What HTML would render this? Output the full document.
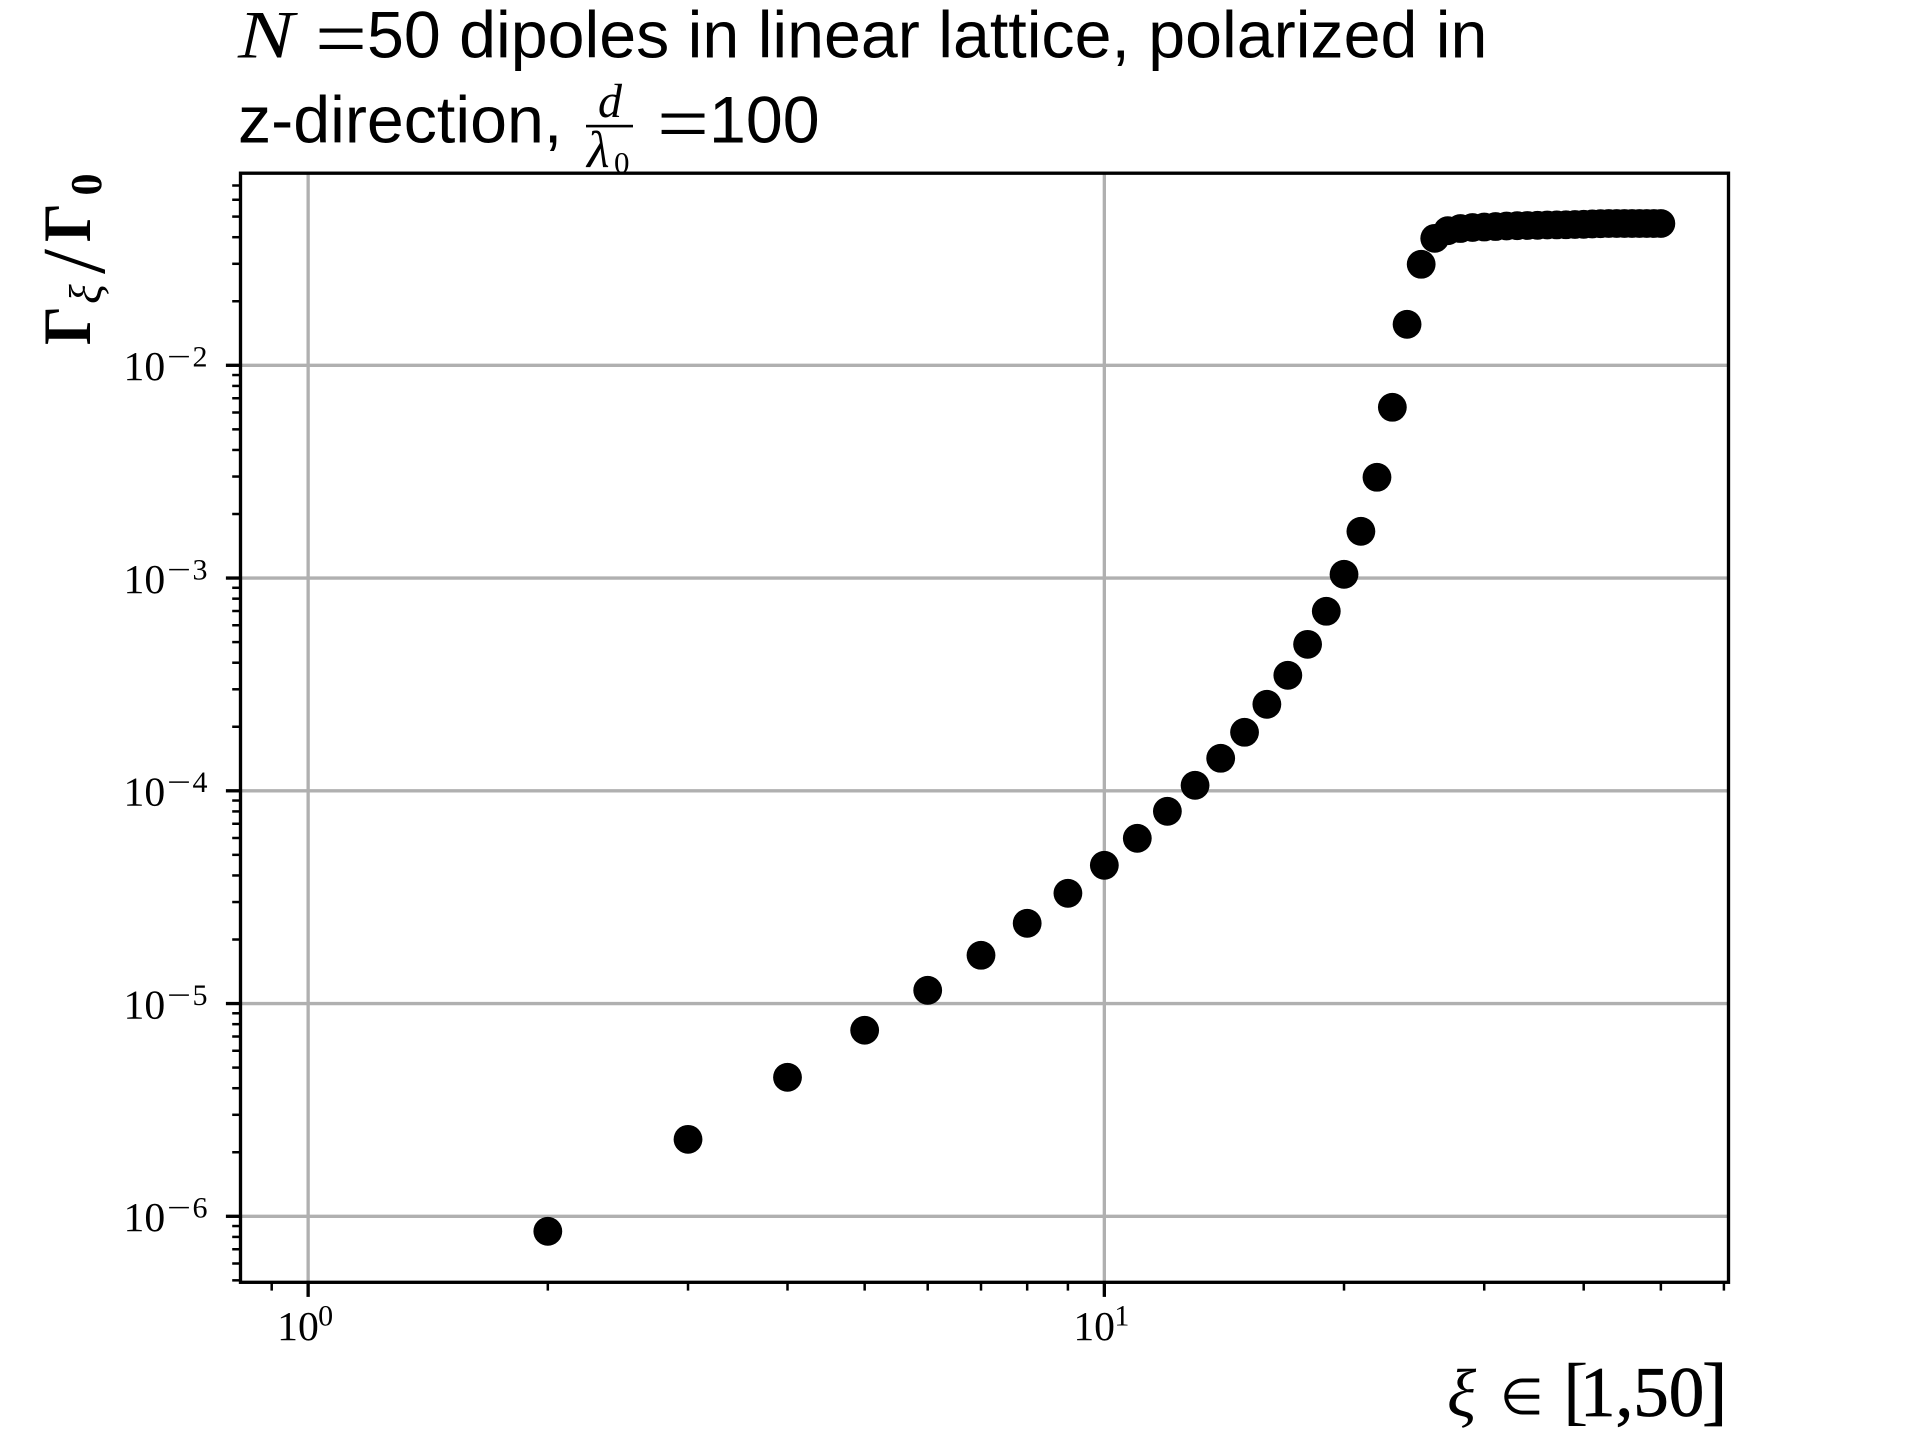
<!DOCTYPE html>
<html lang="en">
<head>
<meta charset="utf-8">
<title>Decay rates of 50 dipoles in a linear lattice</title>
<style>
html,body{margin:0;padding:0;background:#fff;width:1920px;height:1440px;overflow:hidden}
svg{display:block}
.sans{font-family:"Liberation Sans",sans-serif;fill:#000}
.serif{font-family:"Liberation Serif",serif;fill:#000}
.ital{font-family:"Liberation Serif",serif;font-style:italic;fill:#000}
.bold{font-family:"Liberation Serif",serif;font-weight:bold;fill:#000}
</style>
</head>
<body>
<svg id="chart" xmlns="http://www.w3.org/2000/svg" width="1920" height="1440" viewBox="0 0 1920 1440">
  <rect x="0" y="0" width="1920" height="1440" fill="#fff"/>
  <g id="grid"></g>
  <g id="points"></g>
  <g id="ticks"></g>
  <rect x="240.5" y="173.2" width="1488" height="1109.1" fill="none" stroke="#000" stroke-width="3.33"/>
  <g id="tick-labels"></g>

  <g>
    <text class="ital" x="238" y="57.5" font-size="68" textLength="56" lengthAdjust="spacingAndGlyphs">N</text>
    <text class="serif" x="315" y="66" font-size="82" textLength="52" lengthAdjust="spacingAndGlyphs">=</text>
    <text class="sans" x="367" y="57.5" font-size="66.3">50 dipoles in linear lattice, polarized in</text>
    <text class="sans" x="238" y="142.5" font-size="66.3">z-direction,</text>
    <text class="ital" x="598" y="117" font-size="48">d</text>
    <rect x="586" y="124.8" width="47" height="2.6" fill="#000"/>
    <text class="ital" x="587" y="167" font-size="52">λ</text>
    <text class="serif" x="614" y="173" font-size="31">0</text>
    <text class="serif" x="657" y="151" font-size="82" textLength="52" lengthAdjust="spacingAndGlyphs">=</text>
    <text class="sans" x="709" y="142.5" font-size="66.3">100</text>
  </g>

  <g>
    <text class="bold" transform="translate(90,345) rotate(-90)" font-size="68" textLength="39" lengthAdjust="spacingAndGlyphs">Γ</text>
    <text class="ital" transform="translate(101,304) rotate(-90)" font-size="46">ξ</text>
    <text class="serif" transform="translate(104,274) rotate(-90)" font-size="90">/</text>
    <text class="bold" transform="translate(90,242) rotate(-90)" font-size="68" textLength="39" lengthAdjust="spacingAndGlyphs">Γ</text>
    <text class="bold" transform="translate(101,195.5) rotate(-90)" font-size="44">0</text>
  </g>

  <g>
    <text class="ital" x="1447" y="1416" font-size="68">ξ</text>
    <text class="serif" x="1500" y="1414" font-size="50">∈</text>
    <text class="serif" x="1563" y="1416" font-size="76">[</text>
    <text class="serif" x="1580" y="1416" font-size="71" stroke="#000" stroke-width="0.7">1,50</text>
    <text class="serif" x="1702" y="1416" font-size="76" stroke="#000" stroke-width="0.7">]</text>
  </g>
</svg>

<script>
var xiValues = [2,3,4,5,6,7,8,9,10,11,12,13,14,15,16,17,18,19,20,21,22,23,24,25,26,27,28,29,30,31,32,33,34,35,36,37,38,39,40,41,42,43,44,45,46,47,48,49,50];
var gammaValues = [8.50e-7,2.30e-6,4.50e-6,7.49e-6,1.154e-5,1.686e-5,2.383e-5,3.298e-5,4.465e-5,5.98e-5,8.01e-5,1.061e-4,1.422e-4,1.884e-4,2.55e-4,3.49e-4,4.88e-4,6.98e-4,1.041e-3,1.658e-3,2.976e-3,6.35e-3,0.01558,0.02984,0.03951,0.04292,0.04395,0.04443,0.04467,0.04491,0.04516,0.04531,0.04541,0.0455,0.04566,0.0457,0.04576,0.0459,0.046,0.04617,0.0463,0.0464,0.0464,0.0464,0.0464,0.0464,0.0464,0.0464,0.0464];
var xMajorExponents = [0,1];
var yMajorExponents = [-6,-5,-4,-3,-2];
var xMinorTicks = [0.9,2,3,4,5,6,7,8,9,20,30,40,50,60];
var yMinorTicks = [5e-7,6e-7,7e-7,8e-7,9e-7,2e-6,3e-6,4e-6,5e-6,6e-6,7e-6,8e-6,9e-6,2e-5,3e-5,4e-5,5e-5,6e-5,7e-5,8e-5,9e-5,2e-4,3e-4,4e-4,5e-4,6e-4,7e-4,8e-4,9e-4,2e-3,3e-3,4e-3,5e-3,6e-3,7e-3,8e-3,9e-3,2e-2,3e-2,4e-2,5e-2,6e-2,7e-2];

var NS = 'http://www.w3.org/2000/svg';
var axL = 240.5, axR = 1728.5, axT = 173.2, axB = 1282.3;
var xLogMin = -0.08495, xLogMax = 1.78392;

function xScale(v) {
  return axL + (Math.log10(v) - xLogMin) / (xLogMax - xLogMin) * (axR - axL);
}
function yScale(v) {
  return 365.3 + (-2 - Math.log10(v)) * 212.75;
}
function make(tag, attrs) {
  var el = document.createElementNS(NS, tag);
  for (var k in attrs) { el.setAttribute(k, attrs[k]); }
  return el;
}

var gridG = document.getElementById('grid');
var ticksG = document.getElementById('ticks');
var labelsG = document.getElementById('tick-labels');
var pointsG = document.getElementById('points');

xMajorExponents.forEach(function (e) {
  var x = xScale(Math.pow(10, e));
  var g = make('line', {x1: x, x2: x, y1: axT, y2: axB, stroke: '#b0b0b0', 'stroke-width': 3.33});
  
  
  gridG.appendChild(g);
  var t = make('line', {x1: x, x2: x, y1: axB, y2: axB + 14.6, stroke: '#000', 'stroke-width': 3.33});
  
  
  ticksG.appendChild(t);
  var base = make('text', {x: x - 31, y: 1340, 'font-size': 41.7, 'class': 'serif'});
  base.textContent = '10';
  
  
  labelsG.appendChild(base);
  var sup = make('text', {x: x + 10, y: 1325.5, 'font-size': 30, 'class': 'serif'});
  sup.textContent = String(e);
  
  
  labelsG.appendChild(sup);
});

yMajorExponents.forEach(function (e) {
  var y = yScale(Math.pow(10, e));
  var g = make('line', {x1: axL, x2: axR, y1: y, y2: y, stroke: '#b0b0b0', 'stroke-width': 3.33});
  
  
  gridG.appendChild(g);
  var t = make('line', {x1: axL - 14.6, x2: axL, y1: y, y2: y, stroke: '#000', 'stroke-width': 3.33});
  
  
  ticksG.appendChild(t);
  var base = make('text', {x: 123.5, y: y + 14.7, 'font-size': 41.7, 'class': 'serif'});
  base.textContent = '10';
  
  
  labelsG.appendChild(base);
  var minus = make('text', {x: 167, y: y + 1.2, 'font-size': 30, 'class': 'serif', textLength: 24, lengthAdjust: 'spacingAndGlyphs'});
  minus.textContent = '\u2212';
  
  
  labelsG.appendChild(minus);
  var sup = make('text', {x: 192.5, y: y + 1.2, 'font-size': 30, 'class': 'serif'});
  sup.textContent = String(Math.abs(e));
  
  
  labelsG.appendChild(sup);
});

xMinorTicks.forEach(function (v) {
  var x = xScale(v);
  var t = make('line', {x1: x, x2: x, y1: axB, y2: axB + 8.3, stroke: '#000', 'stroke-width': 2.5});
  
  
  ticksG.appendChild(t);
});

yMinorTicks.forEach(function (v) {
  var y = yScale(v);
  var t = make('line', {x1: axL - 8.3, x2: axL, y1: y, y2: y, stroke: '#000', 'stroke-width': 2.5});
  
  
  ticksG.appendChild(t);
});

xiValues.forEach(function (xi, i) {
  var c = make('circle', {cx: xScale(xi), cy: yScale(gammaValues[i]), r: 14.4, fill: '#000'});
  
  
  pointsG.appendChild(c);
});
</script>
</body>
</html>
